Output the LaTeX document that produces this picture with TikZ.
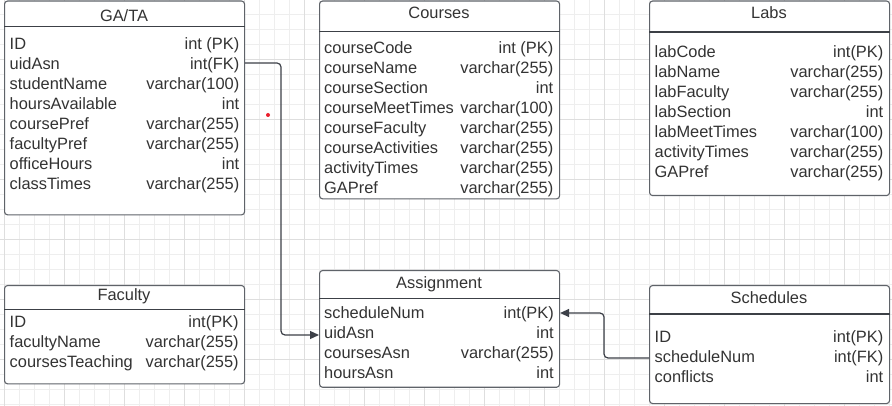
\documentclass[tikz,border=0pt]{standalone}
\usepackage{fontspec}
\setmainfont{Liberation Sans}
\usetikzlibrary{arrows.meta}
\definecolor{gridminor}{RGB}{238,238,238}
\definecolor{gridmajor}{RGB}{222,222,222}
\definecolor{boxline}{RGB}{95,99,105}
\definecolor{divline}{RGB}{60,64,70}
\definecolor{txt}{RGB}{51,51,51}
\definecolor{conncol}{RGB}{60,64,72}
\definecolor{dotred}{RGB}{235,30,45}
\begin{document}
\begin{tikzpicture}[x=1pt,y=-1pt,
  tbl/.style={draw=boxline, line width=1.1pt, fill=white, rounded corners=3pt, anchor=north west, inner sep=0pt},
  ttl/.style={anchor=base, text=txt, font=\fontsize{16.4}{19}\selectfont, inner sep=0pt},
  fl/.style={anchor=base west, text=txt, font=\fontsize{16.4}{19}\selectfont, inner sep=0pt},
  fr/.style={anchor=base east, text=txt, font=\fontsize{16.4}{19}\selectfont, inner sep=0pt},
  divl/.style={draw=divline, line width=1.1pt},
  conn/.style={draw=conncol, line width=1.2pt, rounded corners=4pt},
  tip/.style={-{Triangle[length=9pt,width=8pt]}},
  gmin/.style={draw=gridminor, line width=0.8pt},
  gmaj/.style={draw=gridmajor, line width=0.9pt}]
\fill[white] (0,0) rectangle (892,406);
\useasboundingbox (0,0) rectangle (892,406);
% grid
\foreach \x in {4,19,...,889} \draw[gmin] (\x,0) -- (\x,406);
\foreach \y in {14,29,...,404} \draw[gmin] (0,\y) -- (892,\y);
\foreach \x in {4,64,...,844} \draw[gmaj] (\x,0) -- (\x,406);
\foreach \y in {59,119,...,359} \draw[gmaj] (0,\y) -- (892,\y);

% GA/TA
\node[tbl, minimum width=240pt, minimum height=213.8pt] (gata) at (4,0.5) {};
\draw[divl] (gata.west |- 0,26.7) -- (gata.east |- 0,26.7);
\node[ttl] (gatat) at (124,21.7) {GA/TA};
\foreach \l/\r [count=\i] in {ID/{int (PK)}, uidAsn/{int(FK)}, studentName/{varchar(100)}, hoursAvailable/int, coursePref/{varchar(255)}, facultyPref/{varchar(255)}, officeHours/int, classTimes/{varchar(255)}} {
  \node[fl] (gatal\i) at (9.5,{30+20*\i}) {\l};
  \node[fr] (gatar\i) at (239.5,{30+20*\i}) {\r};
}

% Courses
\node[tbl, minimum width=240pt, minimum height=197.8pt] (crs) at (319,0.5) {};
\draw[divl] (crs.west |- 0,31.7) -- (crs.east |- 0,31.7);
\node[ttl] (crst) at (439,18.3) {Courses};
\foreach \l/\r [count=\i] in {courseCode/{int (PK)}, courseName/{varchar(255)}, courseSection/int, courseMeetTimes/{varchar(100)}, courseFaculty/{varchar(255)}, courseActivities/{varchar(255)}, activityTimes/{varchar(255)}, GAPref/{varchar(255)}} {
  \node[fl] (crsl\i) at (324,{33.3+20*\i}) {\l};
  \node[fr] (crsr\i) at (553.5,{33.3+20*\i}) {\r};
}

% Labs
\node[tbl, minimum width=240pt, minimum height=194.5pt] (labs) at (649,0.5) {};
\draw[divl] (labs.west |- 0,32) -- (labs.east |- 0,32);
\node[ttl] (labst) at (769,18.7) {Labs};
\foreach \l/\r [count=\i] in {labCode/{int(PK)}, labName/{varchar(255)}, labFaculty/{varchar(255)}, labSection/int, labMeetTimes/{varchar(100)}, activityTimes/{varchar(255)}, GAPref/{varchar(255)}} {
  \node[fl] (labsl\i) at (654.5,{37.7+20*\i}) {\l};
  \node[fr] (labsr\i) at (883.5,{37.7+20*\i}) {\r};
}

% Faculty
\node[tbl, minimum width=240pt, minimum height=98.3pt] (fac) at (4,285) {};
\draw[divl] (fac.west |- 0,309.3) -- (fac.east |- 0,309.3);
\node[ttl] (fact) at (124,301) {Faculty};
\foreach \l/\r [count=\i] in {ID/{int(PK)}, facultyName/{varchar(255)}, coursesTeaching/{varchar(255)}} {
  \node[fl] (facl\i) at (9.5,{307.3+20*\i}) {\l};
  \node[fr] (facr\i) at (238.8,{307.3+20*\i}) {\r};
}

% Assignment
\node[tbl, minimum width=240pt, minimum height=116.7pt] (asg) at (319,270) {};
\draw[divl] (asg.west |- 0,298.3) -- (asg.east |- 0,298.3);
\node[ttl] (asgt) at (439,288.3) {Assignment};
\foreach \l/\r [count=\i] in {scheduleNum/{int(PK)}, uidAsn/int, coursesAsn/{varchar(255)}, hoursAsn/int} {
  \node[fl] (asgl\i) at (324,{298.3+20*\i}) {\l};
  \node[fr] (asgr\i) at (554,{298.3+20*\i}) {\r};
}

% Schedules
\node[tbl, minimum width=240pt, minimum height=118pt] (sch) at (649,285) {};
\draw[divl] (sch.west |- 0,314) -- (sch.east |- 0,314);
\node[ttl] (scht) at (769,303) {Schedules};
\foreach \l/\r [count=\i] in {ID/{int(PK)}, scheduleNum/{int(FK)}, conflicts/int} {
  \node[fl] (schl\i) at (654.5,{322+20*\i}) {\l};
  \node[fr] (schr\i) at (883.5,{322+20*\i}) {\r};
}

% connectors
\draw[conn, tip] (gata.east |- 0,63) -- (281,63) -- (281,335) -- (asg.west |- 0,335);
\draw[conn, tip] (sch.west |- 0,358) -- (604,358) -- (604,313) -- (asg.east |- 0,313);

% red dot
\fill[dotred] (268,115) circle (2pt);
\end{tikzpicture}
\end{document}
